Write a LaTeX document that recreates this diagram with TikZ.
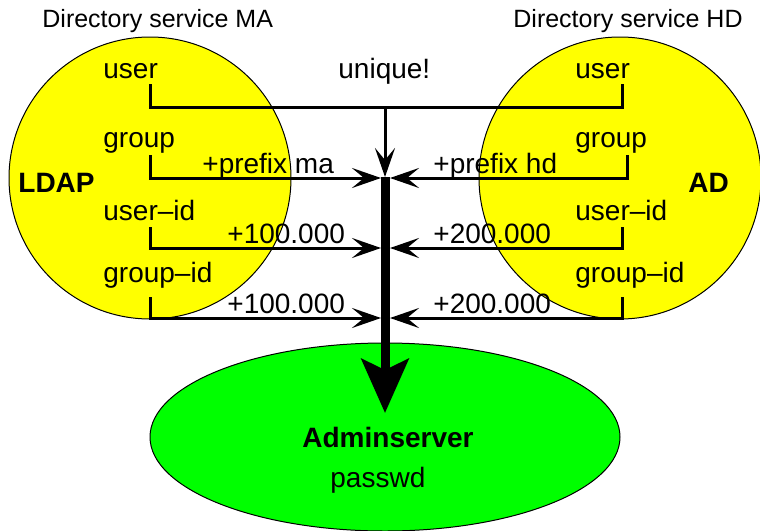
\documentclass[tikz,border=0pt]{standalone}
\usepackage{fontspec}
\setmainfont{Liberation Sans}
\usetikzlibrary{arrows.meta,shapes.geometric}
\definecolor{dirfill}{RGB}{255,255,0}
\definecolor{adminfill}{RGB}{0,255,0}
\tikzset{
	txt/.style={anchor=base west, inner sep=0pt, font=\fontsize{14}{17}\selectfont},
	ttl/.style={anchor=base west, inner sep=0pt, font=\fontsize{12.5}{15}\selectfont},
	tick/.style={line width=1.5pt},
	link/.style={line width=1.5pt, -{Stealth[length=14.5pt,width=10pt,inset=6pt]}},
	trunk/.style={line width=4.5pt, -{Stealth[length=27pt,width=23.5pt,inset=5.5pt]}}
}

\begin{document}
\begin{tikzpicture}[x=0.5pt, y=-0.5pt]
				\useasboundingbox (0,0) rectangle (760,530);
				\node[draw, circle, fill=dirfill, line width=0.5pt, minimum size=141pt, inner sep=0pt] (MA)at(150, 178) {};
				\node[draw, circle, fill=dirfill, line width=0.5pt, minimum size=141pt, inner sep=0pt] (HD)at(620, 178) {};
				\node[draw, ellipse, fill=adminfill, line width=0.5pt, minimum width=235pt, minimum height=94pt, inner sep=0pt] (S)at(385, 437) {};
				\node[ttl] (T1)at(42, 27) {Directory service MA};
				\node[ttl] (T2)at(513, 27) {Directory service HD};
				\node[txt, font=\fontsize{14}{17}\selectfont\bfseries] (L)at(18, 192) {LDAP};
				\node[txt, font=\fontsize{14}{17}\selectfont\bfseries] (R)at(688, 192) {AD};
				\node[txt] (A1)at(103, 78) {user};
				\node[txt] (A2)at(103, 147) {group};
				\node[txt] (A3)at(103, 220) {user--id};
				\node[txt] (A4)at(103, 282) {group--id};
				\node[txt] (B1)at(575, 78) {user};
				\node[txt] (B2)at(575, 147) {group};
				\node[txt] (B3)at(575, 220) {user--id};
				\node[txt] (B4)at(575, 282) {group--id};
				\node[txt] (U)at(338, 78) {unique!};
				\node[txt] (P1)at(202, 173) {+prefix ma};
				\node[txt] (P2)at(433, 173) {+prefix hd};
				\node[txt] (N1)at(227, 243) {+100.000};
				\node[txt] (N2)at(433, 243) {+200.000};
				\node[txt] (N3)at(227, 313) {+100.000};
				\node[txt] (N4)at(433, 313) {+200.000};
				\node[txt, font=\fontsize{14}{17}\selectfont\bfseries] (W1)at(302, 447) {Adminserver};
				\node[txt] (W2)at(330, 487) {passwd};
				\coordinate (a1)at(150, 84); \coordinate (a1c)at(150, 107);
				\coordinate (b1)at(622, 84); \coordinate (b1c)at(622, 107);
				\coordinate (a2)at(150, 155); \coordinate (a2c)at(150, 178);
				\coordinate (b2)at(627, 155); \coordinate (b2c)at(627, 178);
				\coordinate (a3)at(150, 227); \coordinate (a3c)at(150, 248);
				\coordinate (b3)at(622, 227); \coordinate (b3c)at(622, 248);
				\coordinate (a4)at(150, 297); \coordinate (a4c)at(150, 318);
				\coordinate (b4)at(622, 297); \coordinate (b4c)at(622, 318);
				\coordinate (m1)at(385, 107);
				\coordinate (H)at(385, 177);
				\coordinate (l2)at(381, 178); \coordinate (r2)at(390, 178);
				\coordinate (l3)at(381, 248); \coordinate (r3)at(390, 248);
				\coordinate (l4)at(381, 318); \coordinate (r4)at(390, 318);
				\coordinate (X)at(385, 413);
				\draw[tick] (a1) -- (a1c) -- (b1c) -- (b1);
				\draw[link] (m1) -- (H);
				\draw[link] (a2) -- (a2c) -- (l2);
				\draw[link] (b2) -- (b2c) -- (r2);
				\draw[link] (a3) -- (a3c) -- (l3);
				\draw[link] (b3) -- (b3c) -- (r3);
				\draw[link] (a4) -- (a4c) -- (l4);
				\draw[link] (b4) -- (b4c) -- (r4);
				\draw[trunk] (H) -- (X);
			\end{tikzpicture}
\end{document}
